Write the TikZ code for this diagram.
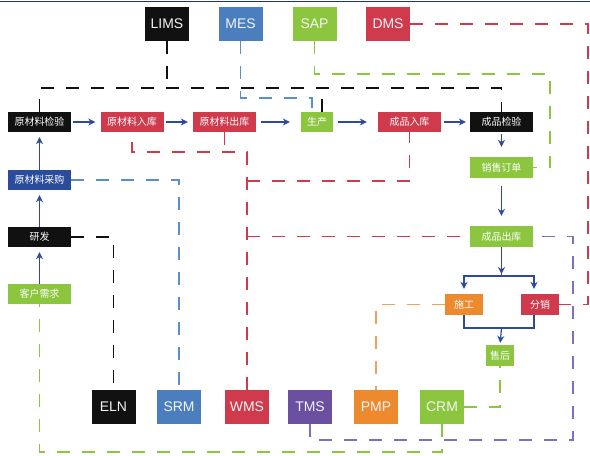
\documentclass[tikz,border=0pt]{standalone}
\usepackage{fontspec}
\setmainfont{Liberation Sans}
\newfontfamily\cjk{Noto Sans CJK SC}
\usetikzlibrary{arrows.meta}

\definecolor{boxblack}{HTML}{111111}
\definecolor{boxblue}{HTML}{4A7EBF}
\definecolor{boxnavy}{HTML}{2B4C9B}
\definecolor{boxgreen}{HTML}{8CC63F}
\definecolor{boxred}{HTML}{CF3A4C}
\definecolor{boxpurple}{HTML}{6B4FA0}
\definecolor{boxorange}{HTML}{EE8A2E}
\definecolor{flownavy}{HTML}{2E4A9A}
\definecolor{dashblue}{HTML}{5B8FCB}
\definecolor{dashpurple}{HTML}{7F6FC4}
\definecolor{dashorange}{HTML}{F0A060}

\begin{document}
\begin{tikzpicture}[x=1bp, y=-1bp,
    box/.style={inner sep=0pt, text=white, font=\cjk\fontsize{10}{12}\selectfont,
                minimum width=63bp, minimum height=20bp},
    sysbox/.style={inner sep=0pt, text=white!92!gray, font=\fontsize{14}{16}\selectfont,
                   minimum width=44bp, minimum height=34bp},
    flow/.style={draw=flownavy, line width=1.2bp, -{Stealth[length=7bp, width=7bp]},
                 shorten >=5bp},
    line/.style={draw=flownavy, line width=1.2bp},
    link/.style={line width=1.8bp, dash pattern=on 13bp off 12bp},
    kdash/.style={link, draw=boxblack},
    bdash/.style={link, draw=dashblue},
    gdash/.style={link, draw=boxgreen},
    rdash/.style={link, draw=boxred},
    odash/.style={link, draw=dashorange},
    pdash/.style={link, draw=dashpurple}]
    \useasboundingbox (0,0) rectangle (590,456);
    \draw[flownavy!70!black, line width=1bp] (0,2) -- (590,2);

    % 系统
    \node[sysbox, fill=boxblack]  (lims) at (167,24)  {LIMS};
    \node[sysbox, fill=boxblue]   (mes)  at (240.5,24) {MES};
    \node[sysbox, fill=boxgreen]  (sap)  at (314.5,24) {SAP};
    \node[sysbox, fill=boxred]    (dms)  at (388,24)  {DMS};
    \node[sysbox, fill=boxblack]  (eln)  at (113.5,407) {ELN};
    \node[sysbox, fill=boxblue]   (srm)  at (179,407) {SRM};
    \node[sysbox, fill=boxred]    (wms)  at (247,407) {WMS};
    \node[sysbox, fill=boxpurple] (tms)  at (310,407) {TMS};
    \node[sysbox, fill=boxorange] (pmp)  at (376,407) {PMP};
    \node[sysbox, fill=boxgreen]  (crm)  at (442,407) {CRM};

    % 主流程
    \node[box, fill=boxblack] (rawqc)  at (39.5,122) {原材料检验};
    \node[box, fill=boxred]   (rawin)  at (132,122)  {原材料入库};
    \node[box, fill=boxred]   (rawout) at (224.5,122) {原材料出库};
    \node[box, fill=boxgreen, minimum width=32bp] (prod) at (317,122) {生产};
    \node[box, fill=boxred]   (fgin)   at (409.5,122) {成品入库};
    \node[box, fill=boxblack] (fgqc)   at (501.5,122) {成品检验};

    \node[box, fill=boxnavy]  (buy)    at (39.5,180) {原材料采购};
    \node[box, fill=boxblack] (rd)     at (39.5,237) {研发};
    \node[box, fill=boxgreen] (demand) at (39.5,294) {客户需求};

    \node[box, fill=boxgreen, minimum height=21bp] (order) at (501.5,167.5) {销售订单};
    \node[box, fill=boxgreen, minimum height=21bp] (fgout) at (501.5,236.5) {成品出库};
    \node[box, fill=boxorange, minimum width=38bp, minimum height=21bp] (build) at (464,304.5) {施工};
    \node[box, fill=boxred, minimum width=38bp, minimum height=21bp]    (dist)  at (540,304.5) {分销};
    \node[box, fill=boxgreen, minimum width=28bp, minimum height=21bp]  (after) at (500,355.5) {售后};

    % 实线箭头
    \draw[flow, shorten <=2bp] (rawqc) -- (rawin);
    \draw[flow, shorten <=2bp] (rawin) -- (rawout);
    \draw[flow, shorten <=5bp, shorten >=11bp] (rawout) -- (prod);
    \draw[flow, shorten <=5bp, shorten >=11bp] (prod) -- (fgin);
    \draw[flow, shorten <=3bp, shorten >=4bp] (fgin) -- (fgqc);
    \draw[flow] (buy) -- (rawqc);
    \draw[flow] (rd) -- (buy);
    \draw[flow] (demand) -- (rd);
    \draw[flow, shorten <=2bp, shorten >=10bp] (fgqc) -- (order);
    \draw[flow, shorten <=8bp, shorten >=10bp] (order) -- (fgout);

    \coordinate (split) at (501.5,276);
    \coordinate (merge) at (501.5,328);
    \coordinate (distin) at ([xshift=-6bp]dist.north);
    \coordinate (distout) at ([xshift=-6bp]dist.south);
    \draw[line] (fgout.south) -- (split);
    \draw[flow, shorten >=2bp] (fgout.south) -- (split);
    \draw[flow] (split) -| (build.north);
    \draw[flow] (split) -| (distin);
    \draw[line] (build.south) |- (merge) -| (distout);
    \draw[flow, shorten >=2bp] (merge) -- (after.north);

    % 虚线连接
    \coordinate (kbus) at (0,88);
    \coordinate (mbus) at (0,98);
    \coordinate (prodL) at ([xshift=-5bp]prod.north);
    \coordinate (prodR) at ([xshift=5bp]prod.north);
    \draw[kdash] (rawqc.north) |- (fgqc.north |- kbus) -- (fgqc.north);
    \draw[kdash] (lims.south) -- (lims.south |- kbus);
    \draw[kdash] (prodR) -- (prodR |- kbus);
    \draw[bdash] (mes.south) |- (prodL |- mbus) -- (prodL);

    \coordinate (sapturn) at (550,74);
    \draw[gdash] (sap.south) |- (sapturn) |- (order.east);

    \coordinate (dmsx) at (588,0);
    \draw[rdash] (dms.east) -| (dmsx |- dist.east) -- (dist.east);

    \coordinate (wbus) at (0,152);
    \coordinate (wmid) at (0,181);
    \draw[rdash] (wms.north) -- (wms.north |- wbus) -| (rawin.south);
    \draw[rdash] (rawout.south) -- (rawout.south |- wbus);
    \draw[rdash] (wms.north |- wmid) -| (fgin.south);
    \draw[rdash] (wms.north |- fgout.west) -- (fgout.west);

    \draw[bdash] (buy.east) -| (srm.north);
    \draw[kdash] (rd.east) -| (eln.north);
    \draw[odash] (build.west) -| (pmp.north);
    \draw[gdash] (crm.east) -| (after.south);

    \coordinate (gbus) at (0,452);
    \draw[gdash] (crm.south) |- (demand.south |- gbus) -- (demand.south);
    \coordinate (pturn) at (573,440);
    \draw[pdash] (tms.south) |- (pturn) |- (fgout.east);
\end{tikzpicture}
\end{document}
